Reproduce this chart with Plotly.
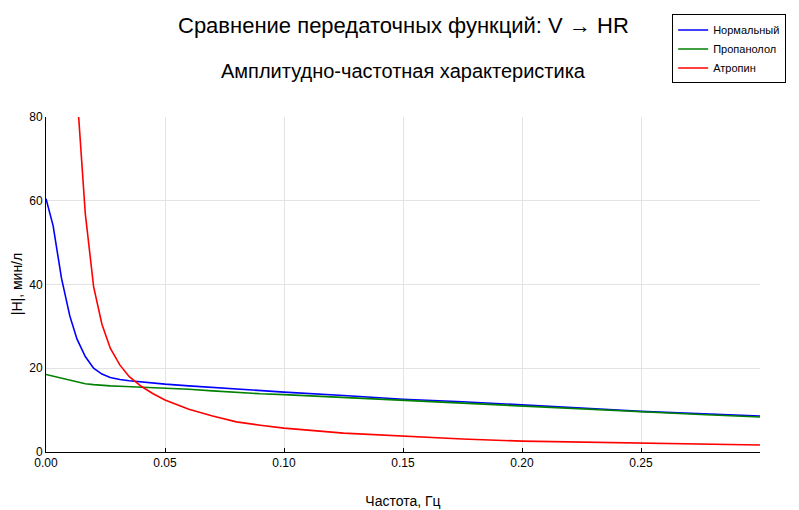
import plotly.graph_objects as go

freq = [0, 0.003, 0.0065, 0.01, 0.013, 0.0165, 0.02, 0.0235, 0.027, 0.031, 0.035,
        0.04, 0.045, 0.05, 0.06, 0.07, 0.08, 0.09, 0.10, 0.125, 0.15, 0.175, 0.20,
        0.225, 0.25, 0.275, 0.30]

normal = [60.5, 54.0, 41.5, 32.5, 27.0, 22.8, 20.0, 18.6, 17.8, 17.3, 17.0,
          16.7, 16.4, 16.2, 15.8, 15.4, 15.0, 14.7, 14.3, 13.5, 12.6, 12.0, 11.3,
          10.5, 9.7, 9.1, 8.6]

propranolol = [18.5, 18.1, 17.5, 17.0, 16.6, 16.3, 16.1, 15.9, 15.8, 15.7, 15.6,
               15.5, 15.4, 15.3, 15.0, 14.6, 14.2, 13.9, 13.7, 13.0, 12.3, 11.6, 10.9,
               10.2, 9.55, 8.95, 8.35]

atropine = [None, None, None, 130.0, 86.0, 57.0, 39.5, 30.5, 24.8, 20.8, 18.0,
            15.7, 13.9, 12.4, 10.2, 8.6, 7.2, 6.4, 5.7, 4.5, 3.75, 3.1, 2.6,
            2.35, 2.15, 1.9, 1.67]

series_names = ["Нормальный", "Пропанолол", "Атропин"]
series_colors = ["#0000ff", "#008000", "#ff0000"]

x_tickvals = [0, 0.05, 0.10, 0.15, 0.20, 0.25]
x_ticktext = ["0.00", "0.05", "0.10", "0.15", "0.20", "0.25"]
y_tickvals = [0, 20, 40, 60, 80]

title_main = "Сравнение передаточных функций: V → HR"
title_sub = "Амплитудно-частотная характеристика"
x_title = "Частота, Гц"
y_title = "|H|, мин/л"

fig = go.Figure()
for name, vals, col in zip(series_names, [normal, propranolol, atropine], series_colors):
    fig.add_trace(go.Scatter(x=freq, y=vals, mode="lines", name=name,
                             line=dict(color=col, width=1.6)))

tick_font = dict(family="Liberation Sans Narrow, Arial Narrow, Liberation Sans, Arial", size=12, color="#000000")
label_font = dict(size=14, family="Liberation Sans, Arial")

fig.update_layout(
    width=791, height=502,
    margin=dict(l=38, r=39, t=109, b=58, autoexpand=False),
    paper_bgcolor="white", plot_bgcolor="white",
    font=dict(family="Liberation Sans, Arial, sans-serif", color="#000000"),
    showlegend=True,
    legend=dict(x=0.877, y=1.306, xanchor="left", yanchor="top",
                bordercolor="#000000", borderwidth=1, bgcolor="white",
                font=dict(size=11, family="Liberation Sans, Arial"),
                tracegroupgap=0),
    annotations=[
        dict(text=title_main, x=0.5, y=1.272, xref="paper", yref="paper",
             xanchor="center", yanchor="middle", showarrow=False,
             font=dict(size=22, family="Liberation Sans, Arial")),
        dict(text=title_sub, x=0.5, y=1.136, xref="paper", yref="paper",
             xanchor="center", yanchor="middle", showarrow=False,
             font=dict(size=20, family="Liberation Sans, Arial")),
        dict(text=y_title, x=-0.041, y=0.5, xref="paper", yref="paper",
             xanchor="center", yanchor="middle", showarrow=False, textangle=-90,
             font=label_font),
    ],
)

fig.update_xaxes(
    range=[0, 0.3], tickvals=x_tickvals, ticktext=x_ticktext,
    showline=True, linecolor="#000000", linewidth=1,
    showgrid=True, gridcolor="#e3e3e3", gridwidth=1, zeroline=False,
    ticks="inside", ticklen=4, tickcolor="#000000",
    tickfont=tick_font,
    title=dict(text=x_title, standoff=26, font=label_font),
    automargin=False,
)
fig.update_yaxes(
    range=[0, 80], tickvals=y_tickvals,
    showline=True, linecolor="#000000", linewidth=1,
    showgrid=True, gridcolor="#e3e3e3", gridwidth=1, zeroline=False,
    ticks="", tickfont=tick_font,
    automargin=False,
)

fig.write_html("out.html")
